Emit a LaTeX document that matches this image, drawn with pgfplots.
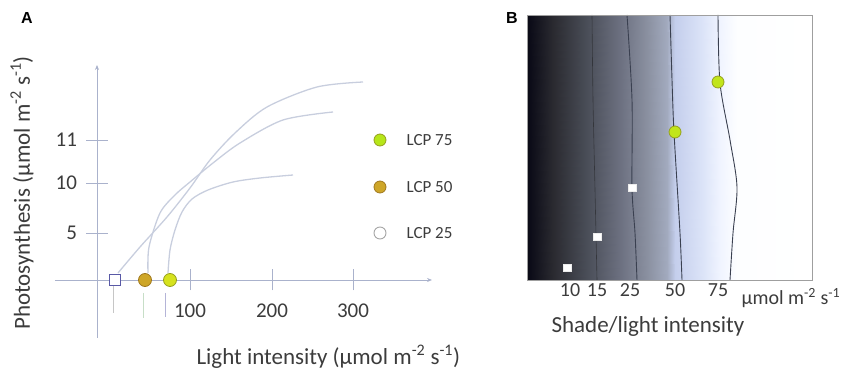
\documentclass[border=0pt]{standalone}
\usepackage{fontspec}
\setmainfont{Carlito}
\newfontfamily\arialf{Liberation Sans}
\usepackage{pgfplots}
\pgfplotsset{compat=1.18}
\usetikzlibrary{arrows.meta}
\definecolor{axiscol}{RGB}{170,178,204}
\definecolor{curvecol}{RGB}{200,206,222}
\definecolor{txt}{RGB}{60,60,60}
\definecolor{lcpy}{RGB}{214,226,30}
\definecolor{lcpyd}{RGB}{150,160,30}
\definecolor{lcpo}{RGB}{206,166,40}
\definecolor{lcpod}{RGB}{160,120,30}
\definecolor{contour}{RGB}{58,64,80}
\begin{document}
\begin{tikzpicture}[x=1pt,y=1pt]
\useasboundingbox (0,0) rectangle (846,374);
\node[font=\arialf\bfseries\fontsize{16}{16}\selectfont] at (27,356) {A};
\node[font=\arialf\bfseries\fontsize{16}{16}\selectfont] at (512,356) {B};

% ---------------- Panel A ----------------
\begin{axis}[
  at={(55pt,36pt)}, anchor=south west,
  scale only axis, width=377pt, height=273pt,
  xmin=-42, xmax=335, ymin=-58, ymax=215,
  axis lines=middle,
  axis line style={draw=axiscol, line width=0.8pt, -{Stealth[length=5pt,width=4pt]}},
  xtick={93,175,256}, xticklabels={100,200,300},
  ytick={47,97,140}, yticklabels={5,10,11},
  tick align=center, major tick length=21pt,
  tick style={draw=axiscol, line width=0.8pt},
  /pgf/number format/assume math mode=true,
  ticklabel style={font=\fontsize{21}{21}\selectfont, text=txt},
  xticklabel style={yshift=-10pt},
  yticklabel style={xshift=-6pt},
  clip=false,
]
% light response curves
\addplot[curvecol, line width=1.3pt, smooth] coordinates {(21,7)(43,33)(70,63)(93,92)(113,120)(138,147)(170,173)(220,193)(266,198)};
\addplot[curvecol, line width=1.3pt, smooth] coordinates {(51,7)(52,33)(63,67)(78,85)(93,98)(116,117)(143,137)(186,160)(236,168)};
\addplot[curvecol, line width=1.3pt, smooth] coordinates {(71,7)(73,30)(78,50)(85,68)(95,81)(111,90)(136,98)(163,102)(196,105)};
% drop lines
\addplot[draw=gray!45, line width=1pt] coordinates {(16,-6)(16,-33)};
\addplot[draw=green!25!gray!35, line width=1pt] coordinates {(46,-13)(46,-38)};
\addplot[draw=blue!30!gray!45, line width=1pt] coordinates {(68,-13)(68,-37)};
% LCP markers
\addplot[only marks, mark=square*, mark size=5.5pt, mark options={fill=white, draw=blue!30!gray, line width=1pt}] coordinates {(18,0)};
\addplot[only marks, mark=*, mark size=6.5pt, mark options={fill=lcpo, draw=lcpod, line width=0.8pt}] coordinates {(48,0)};
\addplot[only marks, mark=*, mark size=6.5pt, mark options={fill=lcpy, draw=lcpyd, line width=0.8pt}] coordinates {(73,0)};
% legend
\addplot[only marks, mark=*, mark size=6pt, mark options={fill=lcpy!85!green, draw=lcpyd, line width=0.8pt}] coordinates {(283,140)};
\addplot[only marks, mark=*, mark size=6pt, mark options={fill=lcpo, draw=lcpod, line width=0.8pt}] coordinates {(283,93)};
\addplot[only marks, mark=*, mark size=6pt, mark options={fill=white, draw=gray!70, line width=0.9pt}] coordinates {(283,47)};
\node[anchor=west, text=txt, font=\fontsize{17}{17}\selectfont] at (axis cs:306,140) {LCP 75};
\node[anchor=west, text=txt, font=\fontsize{17}{17}\selectfont] at (axis cs:306,93) {LCP 50};
\node[anchor=west, text=txt, font=\fontsize{17}{17}\selectfont] at (axis cs:306,47) {LCP 25};
% axis labels
\node[rotate=90, text=txt, font=\fontsize{23}{23}\selectfont] at (axis cs:-75,87) {Photosynthesis (µmol m\textsuperscript{-2} s\textsuperscript{-1})};
\node[anchor=west, text=txt, font=\fontsize{23}{23}\selectfont] at (axis cs:96,-77) {Light intensity (µmol m\textsuperscript{-2} s\textsuperscript{-1})};
\end{axis}

% ---------------- Panel B ----------------
\begin{axis}[
  at={(527pt,94pt)}, anchor=south west,
  scale only axis, width=285pt, height=265pt,
  xmin=0, xmax=285, ymin=0, ymax=265,
  axis on top,
  axis line style={draw=gray!75, line width=0.8pt},
  xtick={43,70,103,148,191}, xticklabels={10,15,25,50,75},
  ytick=\empty, major tick length=0pt,
  /pgf/number format/assume math mode=true,
  ticklabel style={font=\fontsize{20}{20}\selectfont, text=txt},
  colormap={shade}{[1pt] rgb255(0pt)=(10,10,22); rgb255(3pt)=(12,12,24); rgb255(26pt)=(42,42,48); rgb255(60pt)=(74,78,88); rgb255(93pt)=(108,112,128); rgb255(120pt)=(138,144,160); rgb255(140pt)=(162,170,190); rgb255(148pt)=(196,206,236); rgb255(176pt)=(220,228,248); rgb255(193pt)=(240,244,255); rgb255(210pt)=(253,254,255); rgb255(285pt)=(255,255,255)},
  clip=false,
]
\addplot[surf, shader=interp, mesh/cols=12, point meta=x] coordinates {
(0,0) (3,0) (26,0) (60,0) (93,0) (120,0) (140,0) (148,0) (176,0) (193,0) (210,0) (285,0)
(0,265) (3,265) (26,265) (60,265) (93,265) (120,265) (140,265) (148,265) (176,265) (193,265) (210,265) (285,265)
};
% contour lines
\addplot[smooth, draw=black!80!gray, line width=0.6pt, opacity=0.5] coordinates {(65,265)(66,180)(68,90)(70,0)};
\addplot[smooth, draw=contour, line width=0.9pt] coordinates {(100,265)(105,180)(105,92)(108,47)(110,0)};
\addplot[smooth, draw=contour, line width=0.9pt] coordinates {(143,265)(146,170)(148,130)(153,47)(155,0)};
\addplot[smooth, draw=contour, line width=0.9pt] coordinates {(191,265)(193,197)(203,140)(210,93)(206,47)(203,0)};
% points
\addplot[only marks, mark=square*, mark size=3.8pt, mark options={fill=white, draw=white!85!gray, line width=0.6pt}] coordinates {(40,12)(70,43)(105,92)};
\addplot[only marks, mark=*, mark size=6pt, mark options={fill=lcpy!90!green, draw=lcpyd, line width=0.8pt}] coordinates {(148,148)(191,198)};
\node[anchor=west, text=txt, font=\fontsize{20}{20}\selectfont] at (axis cs:211,-18) {µmol m\textsuperscript{-2} s\textsuperscript{-1}};
\node[anchor=west, text=txt, font=\fontsize{23}{23}\selectfont] at (axis cs:21,-46) {Shade/light intensity};
\end{axis}
\end{tikzpicture}
\end{document}
